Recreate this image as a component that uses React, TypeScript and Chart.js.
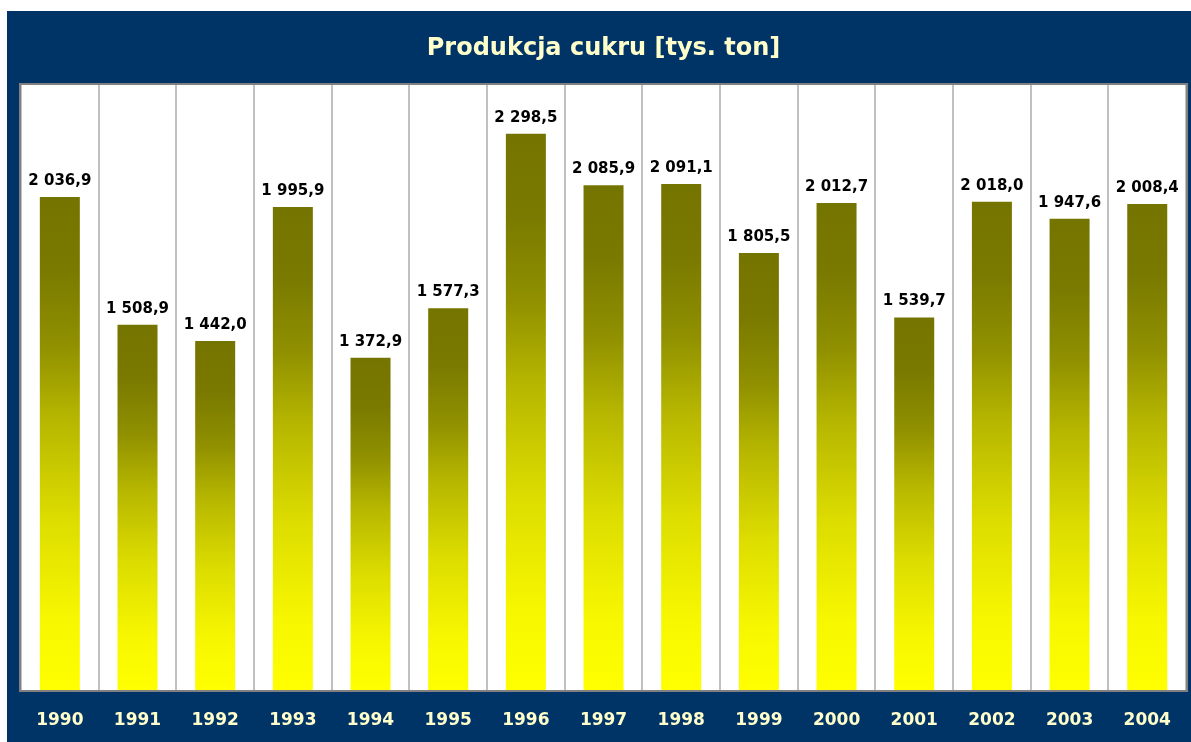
import React, { useEffect, useRef } from "react";
import { Chart, registerables } from "chart.js";

Chart.register(...registerables);

const TITLE = "Produkcja cukru [tys. ton]";
const YEARS = ["1990", "1991", "1992", "1993", "1994", "1995", "1996", "1997", "1998", "1999", "2000", "2001", "2002", "2003", "2004"];
const PRODUCTION = [2036.9, 1508.9, 1442.0, 1995.9, 1372.9, 1577.3, 2298.5, 2085.9, 2091.1, 1805.5, 2012.7, 1539.7, 2018.0, 1947.6, 2008.4];
const Y_MIN = 0;
const Y_MAX = 2500;

const NAVY = "#003366";
const PALE = "#FFFFCC";
const FONT = "'DejaVu Sans', Verdana, sans-serif";

function formatPl(v: number): string {
  const [intPart, dec] = v.toFixed(1).split(".");
  const withSep = intPart.replace(/\B(?=(\d{3})+(?!\d))/g, " ");
  return withSep + "," + dec;
}

const framePlugin = {
  id: "frame",
  beforeDraw(chart: any) {
    const { ctx, chartArea: a, width, height } = chart;
    ctx.save();
    ctx.fillStyle = NAVY;
    ctx.fillRect(0, 0, width, height);
    ctx.fillStyle = "#ffffff";
    ctx.fillRect(a.left, a.top, a.right - a.left, a.bottom - a.top);
    ctx.fillStyle = PALE;
    ctx.font = `bold 24px ${FONT}`;
    ctx.textAlign = "center";
    ctx.textBaseline = "middle";
    ctx.fillText(TITLE, (a.left + a.right) / 2, 38);
    ctx.restore();
  },
  afterDraw(chart: any) {
    const { ctx, chartArea: a } = chart;
    ctx.save();
    ctx.strokeStyle = "#808080";
    ctx.lineWidth = 2;
    ctx.strokeRect(a.left - 1, a.top - 1, a.right - a.left + 2, a.bottom - a.top + 2);
    ctx.restore();
  },
};

const labelPlugin = {
  id: "valueLabels",
  afterDatasetsDraw(chart: any) {
    const { ctx } = chart;
    const meta = chart.getDatasetMeta(0);
    ctx.save();
    ctx.fillStyle = "#000000";
    ctx.font = `bold 15px ${FONT}`;
    ctx.textAlign = "center";
    ctx.textBaseline = "alphabetic";
    meta.data.forEach((bar: any, i: number) => {
      ctx.fillText(formatPl(PRODUCTION[i]), bar.x, bar.y - 12);
    });
    ctx.restore();
  },
};

export default function App() {
  const ref = useRef<HTMLCanvasElement>(null);

  useEffect(() => {
    if (!ref.current) return;
    const chart = new Chart(ref.current, {
      type: "bar",
      data: {
        labels: YEARS,
        datasets: [
          {
            data: PRODUCTION,
            barPercentage: 0.515,
            categoryPercentage: 1,
            borderWidth: 0,
            backgroundColor: (c: any) => {
              const ch = c.chart;
              const ys = ch.scales.y;
              if (!ys || c.dataIndex === undefined) return "#cccc00";
              const v = PRODUCTION[c.dataIndex];
              const top = ys.getPixelForValue(v);
              const bottom = ys.getPixelForValue(0);
              if (!isFinite(top) || !isFinite(bottom) || top === bottom) return "#cccc00";
              const g = ch.ctx.createLinearGradient(0, top, 0, bottom);
              g.addColorStop(0, "#747400");
              g.addColorStop(0.15, "#7a7a00");
              g.addColorStop(0.3, "#909000");
              g.addColorStop(0.45, "#b6b600");
              g.addColorStop(0.65, "#dcdc00");
              g.addColorStop(0.85, "#f6f600");
              g.addColorStop(1, "#ffff00");
              return g;
            },
          },
        ],
      },
      options: {
        responsive: false,
        animation: false,
        layout: { padding: { left: 14, right: 3, top: 74, bottom: 0 } },
        plugins: {
          legend: { display: false },
          title: { display: false },
          tooltip: { enabled: false },
        },
        scales: {
          x: {
            offset: true,
            grid: { display: true, offset: true, color: "#c0c0c0", lineWidth: 2, drawTicks: false },
            border: { display: false },
            ticks: {
              color: PALE,
              font: { family: FONT, size: 17, weight: "bold" },
              padding: 20,
              maxRotation: 0,
              autoSkip: false,
            },
            afterFit: (s: any) => {
              s.height = 52;
            },
          },
          y: {
            display: false,
            min: Y_MIN,
            max: Y_MAX,
          },
        },
      },
      plugins: [framePlugin, labelPlugin],
    });
    return () => chart.destroy();
  }, []);

  return (
    <div style={{ position: "absolute", left: 7, top: 11, width: 1184, height: 731 }}>
      <canvas ref={ref} width={1184} height={731} style={{ width: 1184, height: 731, display: "block" }} />
    </div>
  );
}
